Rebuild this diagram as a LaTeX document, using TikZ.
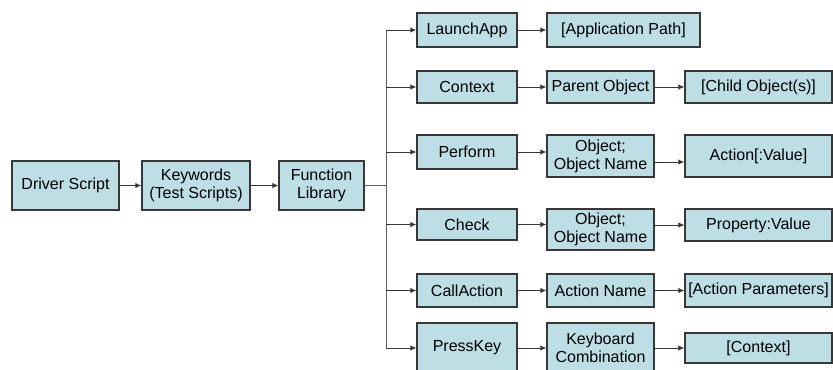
\documentclass[tikz,border=0pt]{standalone}
\usepackage{fontspec}
\setmainfont{Liberation Sans}
\usetikzlibrary{arrows.meta}
\definecolor{paleblue}{RGB}{189,222,229}
\definecolor{edge}{RGB}{55,55,55}
\tikzset{
  >={Latex[length=4.5pt,width=4pt]},
  blk/.style={draw=edge,fill=paleblue,line width=0.8pt,inner sep=1pt,align=center,
    font=\fontsize{12}{13.5}\selectfont},
  flow/.style={->,line width=0.75pt,draw=#1},
  flow/.default=edge,
  wire/.style={line width=0.75pt,draw=edge!80},
}

\begin{document}
\begin{tikzpicture}[x=0.75pt,y=-0.75pt]
  \useasboundingbox (0,0) rectangle (833,369);
  % main chain
  \node[blk,minimum width=80.25pt,minimum height=36.75pt] (drv) at (65.5,185.5) {Driver Script};
  \node[blk,minimum width=81pt,minimum height=36.75pt] (kw) at (196,185.5) {Keywords\\(Test Scripts)};
  \node[blk,minimum width=63.75pt,minimum height=36.75pt] (lib) at (321.5,185.5) {Function\\Library};
  \draw[flow] (drv) -- (kw);
  \draw[flow] (kw) -- (lib);
  % keywords
  \foreach \n/\y/\h/\t in {launch/30/25.5pt/LaunchApp,ctx/87/24pt/Context,perf/152/25.5pt/Perform,
    chk/224.5/23.25pt/Check,call/290.5/24.75pt/CallAction,press/348/37.5pt/PressKey}{
    \node[blk,minimum width=75pt,minimum height=\h] (\n) at (467,\y) {\t};
  }
  \coordinate (trunk) at (386,185.5);
  \draw[wire] (lib) -- (trunk);
  \draw[wire] (trunk |- launch) -- (trunk |- press);
  \foreach \n in {launch,ctx,perf,chk,call,press}
    \draw[flow] (trunk |- \n) -- (\n);
  % arguments
  \node[blk,minimum width=114.75pt,minimum height=25.5pt] (app) at (623.5,30) {[Application Path]};
  \node[blk,minimum width=80.25pt,minimum height=24pt] (par) at (600.5,87) {Parent Object};
  \node[blk,minimum width=80.25pt,minimum height=31.5pt] (obj1) at (600.5,156) {Object;\\Object Name};
  \node[blk,minimum width=80.25pt,minimum height=30.75pt] (obj2) at (600.5,229.5) {Object;\\Object Name};
  \node[blk,minimum width=80.25pt,minimum height=24.75pt] (aname) at (600.5,290.5) {Action Name};
  \node[blk,minimum width=80.25pt,minimum height=37.5pt] (kbd) at (600.5,348) {Keyboard\\Combination};
  % values
  \node[blk,minimum width=110.25pt,minimum height=24pt] (child) at (758.5,87) {[Child Object(s)]};
  \node[blk,minimum width=110.25pt,minimum height=31.5pt] (actv) at (758.5,156) {Action[:Value]};
  \node[blk,minimum width=110.25pt,minimum height=24pt] (prop) at (758.5,225) {Property:Value};
  \node[blk,minimum width=110.25pt,minimum height=24.75pt] (apar) at (758.5,290.5) {[Action Parameters]};
  \node[blk,minimum width=110.25pt,minimum height=22.5pt] (ctxt) at (758.5,348) {[Context]};
  % connectors
  \draw[flow] (launch) -- (app);
  \draw[flow] (ctx) -- (par);
  \draw[flow] (par) -- (child);
  \draw[flow] (perf.east) -- (perf.east -| obj1.west);
  \coordinate (o1) at ([yshift=-4.5pt]obj1.east);
  \draw[flow] (o1) -- (o1 -| actv.west);
  \draw[flow] (chk.east) -- (chk.east -| obj2.west);
  \draw[flow] (prop -| obj2.east) -- (prop.west);
  \draw[flow] (call) -- (aname);
  \draw[flow] (aname) -- (apar);
  \draw[flow] (press) -- (kbd);
  \draw[flow] (kbd) -- (ctxt);
\end{tikzpicture}
\end{document}
